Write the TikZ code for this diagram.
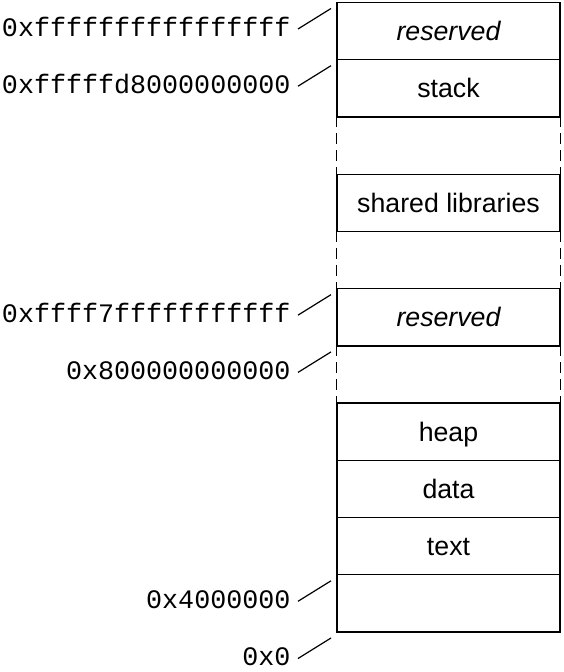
\documentclass[tikz,border=0pt]{standalone}
\usepackage{fontspec}
\setmainfont{Liberation Sans}
\setmonofont{Liberation Mono}
\begin{document}
\begin{tikzpicture}[x=1pt, y=1pt, line width=1.2pt,
    font=\fontsize{26.7}{32}\selectfont]
    \tikzset{
      seg/.style={minimum width=223pt, minimum height=57.23pt, inner sep=0pt,
                  text height=19pt, text depth=0pt},
      segbox/.style={seg, draw},
      gapside/.style={dash pattern=on 11pt off 6pt},
      addr/.style={anchor=east, inner xsep=7pt, inner ysep=0pt, text height=14pt,
                   text depth=0pt, font=\fontsize{26.7}{32}\selectfont\ttfamily},
    }
    \useasboundingbox (0,0) rectangle (564,-672);

    % address space, top to bottom
    \node[segbox] (resvhi) at (448.5,-31.1)  {\itshape reserved};
    \node[segbox] (stack)  at (448.5,-88.35) {stack};
    \node[seg]    (gapa)   at (448.5,-145.6) {};
    \node[segbox] (shlib)  at (448.5,-202.8) {shared libraries};
    \node[seg]    (gapb)   at (448.5,-260.0) {};
    \node[segbox] (resvlo) at (448.5,-317.3) {\itshape reserved};
    \node[seg]    (gapc)   at (448.5,-374.5) {};
    \node[segbox] (heap)   at (448.5,-431.7) {heap};
    \node[segbox] (data)   at (448.5,-489.0) {data};
    \node[segbox] (text)   at (448.5,-546.2) {text};
    \node[segbox] (low)    at (448.5,-603.4) {};

    \draw[gapside] (gapa.north west) -- (gapa.south west);
    \draw[gapside] (gapa.north east) -- (gapa.south east);
    \draw[gapside] (gapb.north west) -- (gapb.south west);
    \draw[gapside] (gapb.north east) -- (gapb.south east);
    \draw[gapside] (gapc.north west) -- (gapc.south west);
    \draw[gapside] (gapc.north east) -- (gapc.south east);

    % addresses
    \node[addr] (atop)   at (298,-29.0)  {0xffffffffffffffff};
    \node[addr] (astack) at (298,-86.2)  {0xfffffd8000000000};
    \node[addr] (auser)  at (298,-315.15) {0xffff7fffffffffff};
    \node[addr] (ahole)  at (298,-372.4) {0x800000000000};
    \node[addr] (atext)  at (298,-601.3) {0x4000000};
    \node[addr] (azero)  at (298,-658.5) {0x0};

    \coordinate (ttop)   at (331,-8.5);
    \coordinate (tstack) at (331,-65.7);
    \coordinate (tuser)  at (331,-294.65);
    \coordinate (thole)  at (331,-351.9);
    \coordinate (ttext)  at (331,-580.8);
    \coordinate (tzero)  at (331,-638.0);

    \draw (atop.east)   -- (ttop);
    \draw (astack.east) -- (tstack);
    \draw (auser.east)  -- (tuser);
    \draw (ahole.east)  -- (thole);
    \draw (atext.east)  -- (ttext);
    \draw (azero.east)  -- (tzero);
\end{tikzpicture}
\end{document}
